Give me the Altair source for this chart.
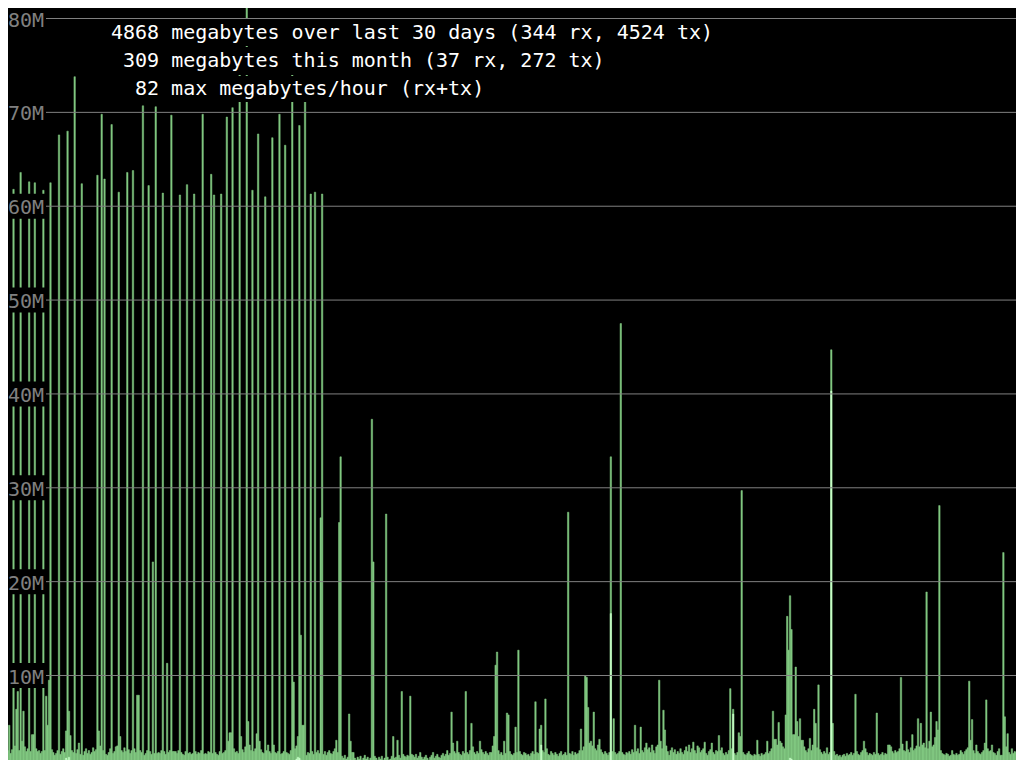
import altair as alt
import pandas as pd

# ---------------- data (megabytes per hour) ----------------
# rx+tx per hour, days 1-10 / 11-20 / 21-30 (24 values per line = one day)
rx_tx_days_01_10 = [
    2.0, 1.5, 2.2, 1.8, 66.7, 2.0, 4.7, 1.7, 2.1, 61.8, 2.5, 6.4, 8.3, 2.0, 63.6, 3.0, 6.2, 2.4, 1.9, 2.2, 62.6, 1.9, 3.7, 3.7,
    62.5, 2.2, 1.9, 2.0, 1.7, 1.9, 61.7, 2.0, 7.8, 4.7, 9.5, 62.5, 2.1, 1.8, 1.5, 1.7, 2.0, 67.6, 1.6, 1.9, 2.2, 1.8, 4.1, 68.0,
    6.2, 3.6, 2.0, 1.8, 73.8, 1.7, 2.1, 2.8, 1.6, 62.4, 1.5, 1.9, 2.2, 1.7, 2.0, 1.6, 1.8, 2.3, 1.9, 2.1, 63.3, 4.1, 2.5, 69.8,
    2.0, 62.9, 1.6, 1.5, 1.8, 2.2, 68.7, 1.7, 1.9, 2.4, 2.5, 61.5, 3.5, 2.0, 1.8, 2.3, 1.9, 63.6, 2.1, 1.7, 2.0, 63.8, 2.2, 1.8,
    7.9, 7.9, 2.0, 1.8, 70.7, 1.5, 1.7, 2.0, 62.2, 1.9, 1.6, 22.1, 1.7, 70.6, 1.7, 1.8, 1.7, 2.0, 61.4, 1.9, 1.6, 11.3, 1.8, 2.0,
    69.7, 1.9, 1.9, 1.9, 1.7, 2.0, 61.2, 1.8, 1.6, 1.5, 1.9, 62.3, 1.7, 1.8, 1.6, 1.7, 61.3, 1.9, 1.6, 1.8, 1.7, 2.0, 69.8, 1.6,
    1.7, 1.6, 1.9, 1.8, 63.4, 1.7, 61.2, 1.8, 1.6, 1.5, 1.9, 61.3, 1.7, 1.8, 2.0, 69.5, 3.0, 3.9, 3.9, 70.5, 2.2, 1.8, 1.9, 1.7,
    74.0, 3.5, 2.1, 1.8, 2.4, 82.0, 5.1, 2.6, 2.0, 61.7, 1.9, 2.2, 3.8, 67.7, 3.0, 2.1, 1.8, 1.7, 61.0, 2.0, 2.6, 1.9, 1.7, 67.3,
    2.6, 1.8, 1.7, 1.9, 69.8, 1.6, 1.7, 1.9, 66.5, 1.8, 1.7, 1.6, 2.0, 74.0, 9.3, 2.2, 2.5, 3.5, 68.6, 14.3, 4.7, 4.7, 72.5, 1.5,
    1.8, 1.7, 61.3, 1.9, 1.6, 61.5, 1.8, 2.0, 1.7, 26.8, 61.3, 1.6, 1.9, 1.5, 1.8, 2.0, 1.7, 1.6, 1.9, 2.2, 3.1, 1.8, 26.3, 33.3,
]
rx_tx_days_11_20 = [
    1.4, 1.2, 1.5, 1.1, 1.3, 5.9, 3.0, 1.8, 1.8, 1.2, 1.0, 1.3, 1.1, 1.4, 1.0, 1.2, 1.5, 1.1, 1.3, 1.0, 1.2, 37.3, 22.1, 1.4,
    1.2, 1.0, 1.3, 1.1, 1.4, 1.0, 1.2, 27.2, 1.3, 1.0, 1.1, 1.4, 3.5, 1.2, 1.3, 3.1, 1.5, 1.2, 8.3, 1.6, 1.4, 1.3, 1.5, 1.4,
    7.8, 1.6, 1.5, 1.3, 1.6, 1.2, 1.4, 1.8, 1.3, 1.1, 1.3, 1.5, 1.2, 1.0, 1.3, 1.5, 1.8, 1.2, 1.4, 1.6, 1.3, 1.2, 1.5, 1.7,
    1.4, 1.6, 2.0, 1.5, 1.7, 6.1, 2.8, 1.9, 1.7, 3.0, 1.8, 1.6, 1.5, 1.9, 1.7, 8.3, 1.8, 1.6, 2.0, 4.9, 2.4, 1.8, 1.6, 1.9,
    1.7, 3.0, 2.1, 1.8, 1.6, 1.9, 1.7, 1.5, 1.8, 1.8, 2.5, 3.5, 11.1, 12.5, 2.0, 1.6, 1.8, 1.5, 3.0, 1.7, 6.0, 5.8, 1.9, 1.6,
    1.5, 1.7, 4.5, 1.8, 12.7, 1.9, 1.6, 1.5, 1.8, 1.7, 1.5, 1.6, 1.4, 1.7, 1.9, 1.6, 7.2, 1.8, 1.7, 4.3, 4.7, 2.0, 1.8, 7.5,
    2.2, 1.6, 1.5, 1.9, 1.7, 1.5, 1.8, 1.6, 1.4, 1.7, 1.9, 1.5, 1.6, 1.8, 1.5, 27.4, 1.7, 1.6, 1.9, 1.5, 1.8, 1.6, 1.7, 2.0,
    4.3, 2.0, 2.4, 10.0, 9.8, 6.6, 2.8, 3.0, 2.5, 6.1, 2.2, 2.0, 2.6, 3.2, 2.1, 1.8, 1.6, 1.9, 1.7, 1.5, 1.8, 33.3, 1.9, 5.4,
    1.8, 1.6, 1.7, 1.9, 47.5, 1.8, 1.6, 1.5, 1.8, 1.7, 1.9, 1.6, 2.1, 1.8, 4.7, 1.9, 2.2, 1.7, 4.5, 2.0, 1.8, 2.3, 2.8, 2.1,
    2.3, 1.8, 2.6, 2.0, 1.7, 2.4, 2.6, 9.5, 3.0, 2.2, 6.3, 4.2, 2.5, 1.9, 1.5, 2.0, 2.3, 1.8, 2.1, 1.6, 1.9, 1.7, 2.2, 1.8,
]
rx_tx_days_21_30 = [
    1.6, 2.0, 2.4, 1.9, 2.6, 1.8, 2.2, 2.9, 2.0, 1.7, 2.5, 2.3, 1.8, 2.0, 2.2, 2.9, 1.7, 1.5, 1.9, 2.1, 2.8, 1.8, 1.6, 2.0,
    1.9, 3.6, 2.0, 2.3, 1.7, 1.5, 1.8, 1.6, 2.0, 8.6, 2.2, 6.4, 1.7, 1.5, 1.8, 3.9, 3.5, 29.7, 1.8, 1.6, 1.5, 1.7, 1.9, 1.6,
    1.5, 1.4, 1.6, 1.5, 3.1, 1.6, 1.4, 1.7, 1.5, 1.6, 1.8, 3.0, 1.7, 1.9, 2.2, 6.2, 3.2, 3.2, 2.6, 5.0, 3.0, 2.8, 2.4, 2.2,
    5.8, 16.3, 12.7, 18.5, 14.9, 3.7, 3.7, 10.9, 5.1, 3.5, 5.4, 3.1, 3.1, 2.4, 2.0, 1.8, 2.2, 3.3, 2.0, 2.6, 6.4, 4.9, 2.3, 9.0,
    2.1, 1.8, 1.6, 1.9, 1.7, 2.3, 1.6, 1.8, 44.7, 4.9, 1.9, 1.5, 1.6, 1.4, 1.5, 1.3, 1.5, 1.6, 1.4, 1.7, 1.5, 1.6, 1.8, 1.5,
    1.7, 8.0, 1.9, 1.6, 1.5, 1.8, 2.0, 3.0, 2.2, 1.8, 1.5, 1.7, 1.6, 1.5, 1.8, 1.6, 6.0, 1.7, 1.5, 1.6, 1.8, 1.5, 1.7, 1.6,
    2.6, 2.6, 2.4, 1.9, 1.7, 2.0, 1.8, 1.9, 2.2, 9.8, 2.7, 2.0, 1.9, 3.0, 2.1, 1.8, 2.3, 3.7, 2.0, 2.2, 2.5, 5.4, 2.4, 4.9,
    2.6, 2.8, 2.3, 18.9, 2.2, 3.0, 6.1, 2.4, 2.6, 3.4, 5.1, 4.2, 28.1, 2.0, 1.7, 1.6, 1.5, 1.7, 1.6, 1.4, 1.5, 2.0, 1.6, 1.5,
    1.7, 1.5, 1.6, 2.0, 1.8, 1.6, 1.9, 2.1, 2.3, 9.4, 3.1, 5.3, 2.0, 1.7, 2.6, 1.9, 1.7, 1.6, 1.8, 2.0, 2.8, 7.4, 2.2, 1.9,
    2.0, 2.6, 1.8, 1.7, 1.5, 1.9, 2.2, 1.5, 1.5, 23.1, 5.6, 2.4, 3.8, 1.8, 1.6, 2.2, 1.7, 1.9, 1.8, 2.7, 4.6, 4.6, 2.7, 4.6,
]

# rx (received) per hour, same layout
rx_days_01_10 = [
    0.4, 0.3, 0.5, 0.2, 0.6, 0.3, 0.5, 0.4, 0.3, 0.6, 0.2, 0.5, 0.7, 0.3, 0.5, 0.4, 0.6, 0.3, 0.2, 0.4, 0.5, 0.3, 0.6, 0.4,
    0.3, 0.5, 0.2, 0.4, 0.3, 0.6, 0.4, 0.2, 0.7, 0.5, 0.8, 0.4, 0.3, 0.2, 0.5, 0.4, 0.3, 0.6, 0.2, 0.4, 0.3, 0.5, 1.2, 1.0,
    1.3, 0.9, 0.4, 0.3, 0.6, 0.2, 0.4, 0.5, 0.3, 0.4, 0.2, 0.5, 0.3, 0.6, 0.4, 0.2, 0.3, 0.5, 0.4, 0.2, 0.3, 0.6, 0.4, 0.3,
    0.5, 0.3, 0.2, 0.4, 0.3, 0.5, 0.6, 0.3, 0.2, 0.4, 0.5, 0.3, 0.7, 0.4, 0.3, 0.2, 0.5, 0.4, 0.3, 0.6, 0.2, 0.4, 0.3, 0.5,
    0.4, 0.6, 0.3, 0.2, 0.5, 0.3, 0.4, 0.2, 0.3, 0.5, 0.4, 0.3, 0.2, 0.6, 0.3, 0.4, 0.5, 0.2, 0.3, 0.4, 0.6, 0.3, 0.2, 0.4,
    0.3, 0.5, 0.4, 0.2, 0.3, 0.6, 0.4, 0.3, 0.2, 0.5, 0.3, 0.4, 0.6, 0.2, 0.3, 0.5, 0.4, 0.3, 0.2, 0.4, 0.3, 0.5, 0.4, 0.3,
    0.2, 0.4, 0.3, 0.5, 0.3, 0.2, 0.4, 0.6, 0.3, 0.2, 0.5, 0.4, 0.3, 0.6, 0.4, 0.2, 0.3, 0.5, 0.8, 0.7, 0.4, 0.3, 0.5, 0.2,
    0.4, 0.6, 0.3, 0.5, 0.4, 0.3, 0.7, 0.5, 0.3, 0.2, 0.4, 0.3, 0.6, 0.5, 0.4, 0.3, 0.2, 0.5, 0.4, 0.3, 0.6, 0.2, 0.4, 0.3,
    0.5, 0.3, 0.2, 0.4, 0.3, 0.6, 0.4, 0.3, 0.2, 0.5, 0.4, 0.3, 0.5, 0.3, 0.6, 0.4, 1.1, 1.3, 1.2, 1.0, 0.8, 0.5, 0.3, 0.4,
    0.3, 0.2, 0.5, 0.4, 0.3, 0.6, 0.4, 0.3, 0.5, 0.2, 0.4, 0.3, 0.5, 0.4, 0.2, 0.3, 0.6, 0.4, 0.3, 0.5, 0.4, 0.3, 0.2, 0.4,
]
rx_days_11_20 = [
    0.3, 0.5, 0.4, 0.3, 0.2, 0.4, 1.0, 0.9, 0.5, 0.3, 0.2, 0.4, 0.3, 0.2, 0.4, 0.3, 0.5, 0.2, 0.3, 0.4, 0.2, 0.3, 0.4, 0.3,
    0.2, 0.4, 0.3, 0.2, 0.3, 0.4, 0.2, 0.5, 0.3, 0.2, 0.4, 0.3, 0.2, 0.4, 0.3, 0.5, 0.3, 0.2, 0.4, 0.3, 0.2, 0.3, 0.4, 0.2,
    0.3, 0.4, 0.2, 0.3, 0.5, 0.3, 0.2, 0.4, 0.3, 0.2, 0.3, 0.4, 0.2, 0.3, 0.5, 0.2, 0.4, 0.3, 0.2, 0.3, 0.4, 0.3, 0.2, 0.4,
    0.3, 0.2, 0.4, 0.3, 0.5, 0.8, 0.4, 0.3, 0.2, 0.4, 0.3, 0.5, 0.2, 0.4, 0.3, 0.2, 0.4, 0.3, 0.5, 0.3, 0.2, 0.4, 0.3, 0.2,
    0.4, 0.3, 0.2, 0.4, 0.3, 0.2, 0.5, 0.3, 0.4, 0.2, 0.3, 0.5, 0.5, 0.4, 0.3, 0.2, 0.4, 0.3, 0.5, 0.3, 0.2, 0.4, 0.3, 0.2,
    0.3, 0.4, 0.2, 0.5, 0.3, 0.2, 0.4, 0.3, 0.2, 0.4, 0.3, 0.2, 0.4, 0.3, 0.2, 0.5, 0.4, 0.3, 0.2, 0.8, 2.6, 0.5, 0.3, 0.4,
    0.3, 0.2, 0.4, 0.3, 0.2, 0.5, 0.3, 0.2, 0.4, 0.3, 0.6, 0.5, 0.4, 0.3, 0.2, 0.4, 0.3, 0.2, 0.4, 0.3, 0.2, 0.4, 0.3, 0.2,
    0.4, 0.3, 0.5, 0.3, 0.4, 0.6, 0.3, 0.4, 0.2, 0.3, 0.5, 0.3, 0.4, 0.2, 0.3, 0.4, 0.2, 0.3, 0.5, 0.3, 0.2, 16.6, 0.4, 0.3,
    0.2, 0.4, 0.3, 0.2, 0.4, 0.3, 0.2, 0.4, 0.3, 0.5, 0.3, 0.2, 0.4, 0.3, 0.2, 0.4, 0.3, 0.2, 0.4, 0.3, 0.5, 0.3, 0.2, 0.4,
    0.3, 0.2, 0.4, 0.3, 0.5, 0.3, 0.2, 0.4, 0.3, 0.2, 0.5, 0.4, 0.3, 0.2, 0.4, 0.3, 0.2, 0.4, 0.3, 0.2, 0.4, 0.3, 0.2, 0.4,
]
rx_days_21_30 = [
    0.3, 0.4, 0.2, 0.5, 0.3, 0.4, 0.2, 0.3, 0.5, 0.3, 0.2, 0.4, 0.3, 0.5, 0.2, 0.4, 0.3, 0.2, 0.4, 0.3, 0.5, 0.2, 0.3, 0.4,
    0.2, 0.4, 0.3, 0.5, 0.2, 0.4, 0.3, 0.2, 0.4, 0.3, 0.5, 5.9, 0.3, 0.2, 0.4, 0.3, 0.2, 0.4, 0.3, 0.5, 0.3, 0.2, 0.4, 0.3,
    0.2, 0.3, 0.4, 0.2, 0.3, 0.4, 0.2, 0.3, 0.4, 0.2, 0.5, 0.3, 0.4, 0.2, 0.3, 0.5, 0.4, 0.3, 0.2, 0.4, 0.3, 0.5, 0.4, 0.3,
    0.5, 0.6, 0.8, 1.2, 1.1, 0.9, 0.7, 0.5, 0.4, 0.3, 0.5, 0.4, 0.3, 0.2, 0.4, 0.3, 0.5, 0.3, 0.2, 0.4, 0.3, 0.2, 0.4, 0.3,
    0.2, 0.4, 0.3, 0.2, 0.4, 0.3, 0.2, 0.4, 40.3, 0.3, 0.2, 0.4, 0.3, 0.2, 0.4, 0.3, 0.2, 0.3, 0.4, 0.2, 0.3, 0.4, 0.2, 0.3,
    0.4, 0.3, 0.2, 0.4, 0.3, 0.2, 0.4, 0.3, 0.5, 0.3, 0.2, 0.4, 0.7, 0.3, 0.2, 0.4, 0.3, 0.2, 0.4, 0.3, 0.2, 0.4, 0.3, 0.2,
    0.3, 0.4, 0.2, 0.3, 0.4, 0.2, 0.3, 0.5, 0.3, 0.2, 0.4, 0.3, 0.2, 0.4, 0.3, 0.5, 0.3, 0.2, 0.4, 0.3, 0.2, 0.4, 0.3, 0.2,
    0.4, 0.3, 0.2, 0.4, 0.3, 0.5, 0.3, 0.2, 0.4, 0.3, 0.2, 0.4, 0.3, 0.2, 0.4, 0.3, 0.5, 0.3, 0.2, 0.4, 0.3, 0.2, 0.4, 0.3,
    0.2, 0.4, 0.3, 0.2, 0.4, 0.3, 0.2, 0.4, 0.3, 0.2, 0.4, 0.3, 0.5, 0.3, 0.2, 0.4, 0.3, 0.2, 0.4, 0.3, 0.2, 0.4, 0.3, 0.5,
    0.3, 0.2, 0.4, 0.3, 0.2, 0.4, 0.3, 0.5, 0.3, 0.2, 0.4, 0.3, 0.2, 0.4, 0.3, 0.2, 0.4, 0.3, 0.2, 0.4, 0.3, 0.2, 0.4, 0.3,
]

y_ticks = [10, 20, 30, 40, 50, 60, 70, 80]
y_tick_labels = ["10M", "20M", "30M", "40M", "50M", "60M", "70M", "80M"]

summary_lines = [
    "4868 megabytes over last 30 days (344 rx, 4524 tx)",
    " 309 megabytes this month (37 rx, 272 tx)",
    "  82 max megabytes/hour (rx+tx)",
]

# ---------------- styles / layout ----------------
TX_GREEN = "#80c880"
RX_GREEN = "#c8ffc8"
GRID_GRAY = "#808080"
FONT = "DejaVu Sans Mono"
W, H = 1024, 769
LINE_BASELINES = [39, 67, 95]
LINE_BG_TOP = [19, 47, 76]
LINE_BG_BOTTOM = [46, 75, 102]
TEXT_LEFT = 111
CHAR_W = 12
LABEL_LEFT = 8
GRID_START = 46

rx_tx = rx_tx_days_01_10 + rx_tx_days_11_20 + rx_tx_days_21_30
rx = rx_days_01_10 + rx_days_11_20 + rx_days_21_30
assert len(rx_tx) == 720 and len(rx) == 720

hourly = pd.DataFrame({"hour": list(range(720)), "rx_tx": rx_tx, "rx": rx})
ticks = pd.DataFrame({"tick": y_ticks, "label": y_tick_labels})

x_scale = alt.Scale(domain=[0, 720], nice=False, zero=False)
y_scale = alt.Scale(domain=[0.038, 81.972], nice=False, zero=False)

base = alt.Chart(hourly).transform_calculate(hour_end="datum.hour + 1")

total_bars = base.mark_rect(
    color=TX_GREEN, stroke=TX_GREEN, strokeWidth=0.5, clip=True
).encode(
    x=alt.X("hour:Q", scale=x_scale, axis=None),
    x2="hour_end:Q",
    y=alt.Y("rx_tx:Q", scale=y_scale, axis=None),
    y2=alt.datum(0),
)
rx_bars = base.mark_rect(
    color=RX_GREEN, stroke=RX_GREEN, strokeWidth=0.4, clip=True
).encode(
    x=alt.X("hour:Q", scale=x_scale, axis=None),
    x2="hour_end:Q",
    y=alt.Y("rx:Q", scale=y_scale, axis=None),
    y2=alt.datum(0),
)

grid = alt.Chart(ticks).mark_rule(color=GRID_GRAY, strokeWidth=1).encode(
    y=alt.Y("tick:Q", scale=y_scale, axis=None),
    x=alt.value(GRID_START),
    x2=alt.value(W),
)
label_bg = alt.Chart(ticks).mark_rect(color="black", yOffset=-12.5, y2Offset=12.5).encode(
    y=alt.Y("tick:Q", scale=y_scale, axis=None),
    y2="tick:Q",
    x=alt.value(0),
    x2=alt.value(GRID_START),
)
label_txt = alt.Chart(ticks).mark_text(
    font=FONT, fontSize=20, color=GRID_GRAY, align="left", baseline="alphabetic", dy=8
).encode(
    y=alt.Y("tick:Q", scale=y_scale, axis=None),
    x=alt.value(LABEL_LEFT),
    text="label:N",
)

layers = [total_bars, rx_bars, grid, label_bg, label_txt]
for i, line in enumerate(summary_lines):
    indent = len(line) - len(line.lstrip(" "))
    df = pd.DataFrame({"t": [line.strip()]})
    layers.append(
        alt.Chart(df).mark_rect(color="black").encode(
            x=alt.value(TEXT_LEFT),
            x2=alt.value(TEXT_LEFT + 1 + CHAR_W * len(line)),
            y=alt.value(LINE_BG_TOP[i]),
            y2=alt.value(LINE_BG_BOTTOM[i]),
        )
    )
    layers.append(
        alt.Chart(df).mark_text(
            font=FONT, fontSize=20, color="white", align="left", baseline="alphabetic"
        ).encode(
            x=alt.value(TEXT_LEFT + CHAR_W * indent),
            y=alt.value(LINE_BASELINES[i]),
            text="t:N",
        )
    )

chart = (
    alt.layer(*layers)
    .properties(
        width=W,
        height=H,
        background="black",
        padding={"left": -8, "top": -8, "right": -8, "bottom": -9},
        autosize=alt.AutoSizeParams(type="none"),
    )
    .configure_view(stroke="transparent")
)

chart.save("out.html", embed_options={"renderer": "svg", "actions": False})
